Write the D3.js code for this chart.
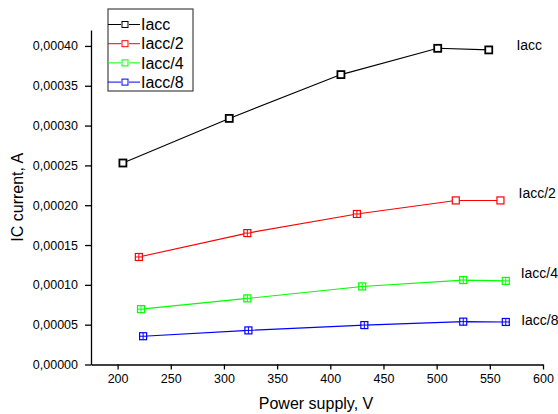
<!DOCTYPE html>
<html>
<head>
<meta charset="utf-8">
<script src="https://cdn.jsdelivr.net/npm/d3@7"></script>
<style>
  html, body { margin: 0; padding: 0; background: #fff; }
  svg { display: block; font-family: "Liberation Sans", Arial, sans-serif; }
</style>
</head>
<body>
<svg id="chart" width="558" height="414"></svg>
<script>
// ---- data ----
const seriesNames = ["Iacc", "Iacc/2", "Iacc/4", "Iacc/8"];
const voltsIacc    = [205, 305, 410, 501, 549];
const iacc         = [0.000253, 0.000309, 0.000364, 0.000397, 0.000395];
const voltsHalf    = [220, 322, 425, 518, 560];
const iaccHalf     = [0.000135, 0.000165, 0.000189, 0.000206, 0.000206];
const voltsQuarter = [222, 322, 430, 525, 565];
const iaccQuarter  = [0.0000695, 0.000083, 0.000098, 0.000106, 0.000105];
const voltsEighth  = [224, 323, 432, 525, 565];
const iaccEighth   = [0.0000355, 0.0000428, 0.0000495, 0.0000538, 0.0000534];
const xTicks = [200, 250, 300, 350, 400, 450, 500, 550, 600];
const yTicks = [0, 0.00005, 0.0001, 0.00015, 0.0002, 0.00025, 0.0003, 0.00035, 0.0004];
// end-of-curve annotation anchors (data units)
const labelVolts = [575, 577, 579, 579.5];
const labelCurr  = [0.000401, 0.000215, 0.000115, 0.0000559];

// ---- styles ----
const colors = ["#000000", "#ff0000", "#00ff00", "#0000ff"];
const crossed = [[], [0, 1, 2], [0, 1, 2, 3, 4], [0, 1, 2, 3, 4]];

const series = [
  [voltsIacc, iacc], [voltsHalf, iaccHalf], [voltsQuarter, iaccQuarter], [voltsEighth, iaccEighth]
].map(([v, c], i) => ({
  name: seriesNames[i], color: colors[i],
  pts: v.map((x, j) => ({ x, y: c[j], cross: crossed[i].includes(j) }))
}));

const svg = d3.select("#chart");
const L = 91, R = 543, T = 30, B = 364.5;
const x = d3.scaleLinear().domain([175, 600]).range([L, R]);
const y = d3.scaleLinear().domain([0, 0.00042]).range([B, T]);
const fmt = d => d3.format(".5f")(d).replace(".", ",");

// minor ticks
const xMinor = d3.range(175, 601, 25).filter(v => v % 50 !== 0);
const yMinor = d3.range(0.000025, 0.00042, 0.00005);

const gx = svg.append("g").attr("transform", `translate(0,${B})`);
gx.call(d3.axisBottom(x).tickValues(xMinor).tickSize(3).tickSizeOuter(0).tickFormat(""));
gx.call(d3.axisBottom(x).tickValues(xTicks).tickSize(5).tickSizeOuter(0).tickPadding(5).tickFormat(d3.format("d")));
gx.selectAll("text").attr("font-size", 12.5).attr("fill", "#000").attr("font-family", "Liberation Sans, Arial");
gx.selectAll("path,line").attr("stroke", "#000").attr("stroke-width", 1.3);

const gy = svg.append("g").attr("transform", `translate(${L},0)`);
gy.call(d3.axisLeft(y).tickValues(yMinor).tickSize(3).tickSizeOuter(0).tickFormat(""));
gy.call(d3.axisLeft(y).tickValues(yTicks).tickSize(6).tickSizeOuter(0).tickPadding(7).tickFormat(fmt));
gy.selectAll("text").attr("font-size", 12.5).attr("fill", "#000").attr("font-family", "Liberation Sans, Arial");
gy.selectAll("path,line").attr("stroke", "#000").attr("stroke-width", 1.3);

// axis titles
svg.append("text").attr("x", (L + R) / 2 - 1).attr("y", 409)
  .attr("text-anchor", "middle").attr("font-size", 16).text("Power supply, V");
svg.append("text").attr("transform", `translate(23,${(T + B) / 2}) rotate(-90)`)
  .attr("text-anchor", "middle").attr("font-size", 16).text("IC current, A");

// lines
const line = d3.line().x(d => x(d.x)).y(d => y(d.y));
series.forEach((s, i) => {
  svg.append("path").datum(s.pts).attr("d", line)
    .attr("fill", "none").attr("stroke", s.color).attr("stroke-width", 1.1);
  const sz = 7;
  const g = svg.append("g");
  g.selectAll("rect").data(s.pts).join("rect")
    .attr("x", d => x(d.x) - sz / 2).attr("y", d => y(d.y) - sz / 2)
    .attr("width", sz).attr("height", sz)
    .attr("fill", "#fff").attr("stroke", s.color).attr("stroke-width", i === 0 ? 1.8 : 1.2);
  const cr = s.pts.filter(d => d.cross);
  g.selectAll("path.cross").data(cr).join("path").attr("class", "cross")
    .attr("d", d => {
      const cx = x(d.x), cy = y(d.y);
      return `M${cx - sz / 2},${cy}H${cx + sz / 2}M${cx},${cy - sz / 2}V${cy + sz / 2}`;
    })
    .attr("stroke", s.color).attr("stroke-width", 1);
  // end label
  svg.append("text").attr("x", x(labelVolts[i])).attr("y", y(labelCurr[i]))
    .attr("dy", "0.35em").attr("font-size", 14).attr("fill", "#000").text(s.name);
});

// legend
const lg = svg.append("g");
lg.append("rect").attr("x", 108).attr("y", 9).attr("width", 85).attr("height", 82)
  .attr("fill", "#fff").attr("stroke", "#444").attr("stroke-width", 1.2);
series.forEach((s, i) => {
  const ry = 24.5 + i * 19.2;
  lg.append("line").attr("x1", 108).attr("x2", 121).attr("y1", ry).attr("y2", ry).attr("stroke", s.color);
  lg.append("line").attr("x1", 129).attr("x2", 140).attr("y1", ry).attr("y2", ry).attr("stroke", s.color);
  lg.append("rect").attr("x", 122).attr("y", ry - 3).attr("width", 6).attr("height", 6)
    .attr("fill", "#fff").attr("stroke", s.color).attr("stroke-width", 1);
  lg.append("text").attr("x", 141).attr("y", ry).attr("dy", "0.36em")
    .attr("font-size", 16).attr("fill", "#000").text(s.name);
});
</script>
</body>
</html>
